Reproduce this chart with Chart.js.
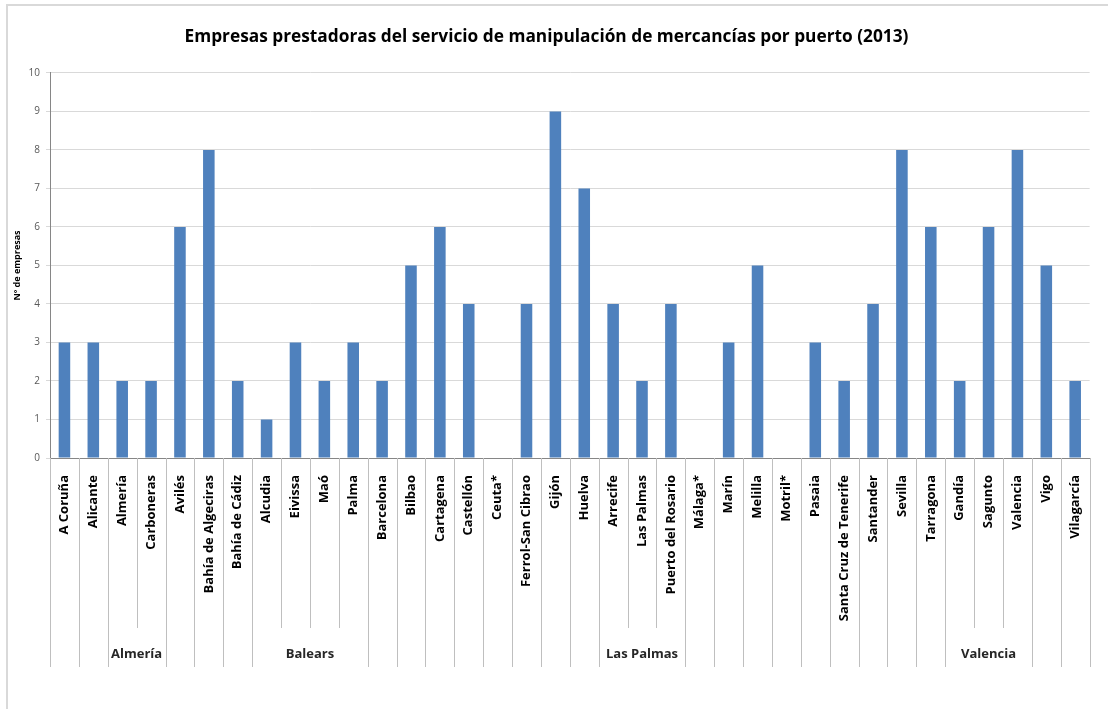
<!DOCTYPE html>
<html>
<head>
<meta charset="utf-8">
<script src="https://cdn.jsdelivr.net/npm/chart.js@4/dist/chart.umd.min.js"></script>
<style>
  html, body { margin: 0; padding: 0; background: #fff; }
  canvas { display: block; }
</style>
</head>
<body>
<canvas id="c" width="1108" height="709"></canvas>
<script>
const title = 'Empresas prestadoras del servicio de manipulación de mercancías por puerto (2013)';
const yAxisTitle = 'Nº de empresas';
const categories = ['A Coruña', 'Alicante', 'Almería', 'Carboneras', 'Avilés', 'Bahía de Algeciras', 'Bahía de Cádiz',
  'Alcudia', 'Eivissa', 'Maó', 'Palma', 'Barcelona', 'Bilbao', 'Cartagena', 'Castellón', 'Ceuta*',
  'Ferrol-San Cibrao', 'Gijón', 'Huelva', 'Arrecife', 'Las Palmas', 'Puerto del Rosario', 'Málaga*', 'Marín',
  'Melilla', 'Motril*', 'Pasaia', 'Santa Cruz de Tenerife', 'Santander', 'Sevilla', 'Tarragona', 'Gandía',
  'Sagunto', 'Valencia', 'Vigo', 'Vilagarcía'];
const groups = ['', '', 'Almería', 'Almería', '', '', '',
  'Balears', 'Balears', 'Balears', 'Balears', '', '', '', '', '',
  '', '', '', 'Las Palmas', 'Las Palmas', 'Las Palmas', '', '',
  '', '', '', '', '', '', '', 'Valencia',
  'Valencia', 'Valencia', '', ''];
const values = [3, 3, 2, 2, 6, 8, 2, 1, 3, 2, 3, 2, 5, 6, 4, 0, 4, 9, 7, 4, 2, 4, 0, 3, 5, 0, 3, 2, 4, 8, 6, 2, 6, 8, 5, 2];
const yMin = 0, yMax = 10, yStep = 1;

const FONT = '"Open Sans", Lato, sans-serif';

const framePlugin = {
  id: 'frame',
  beforeDraw(chart) {
    const ctx = chart.ctx;
    ctx.save();
    ctx.fillStyle = '#ffffff';
    ctx.fillRect(0, 0, chart.width, chart.height);
    ctx.strokeStyle = '#D9D9D9';
    ctx.lineWidth = 2;
    ctx.beginPath();
    ctx.moveTo(7, chart.height);
    ctx.lineTo(7, 5);
    ctx.lineTo(chart.width, 5);
    ctx.stroke();
    ctx.restore();
  }
};

const groupPlugin = {
  id: 'groupAxis',
  afterDraw(chart) {
    const xs = chart.scales.x;
    const ctx = chart.ctx;
    const n = categories.length;
    const w = (xs.right - xs.left) / n;
    const y0 = xs.top;
    const innerEnd = 628, outerEnd = 667, labelY = 654;
    ctx.save();
    ctx.strokeStyle = '#BFBFBF';
    ctx.lineWidth = 1;
    for (let i = 0; i <= n; i++) {
      const bx = Math.round(xs.left + i * w) + 0.5;
      const inner = i > 0 && i < n && groups[i] !== '' && groups[i] === groups[i - 1];
      ctx.beginPath();
      ctx.moveTo(bx, y0);
      ctx.lineTo(bx, inner ? innerEnd : outerEnd);
      ctx.stroke();
    }
    ctx.fillStyle = '#262626';
    ctx.font = 'bold 13px ' + FONT;
    ctx.textAlign = 'center';
    ctx.textBaseline = 'middle';
    let i = 0;
    while (i < n) {
      let j = i;
      while (j + 1 < n && groups[j + 1] === groups[i]) j++;
      if (groups[i] !== '') {
        const cx = (xs.getPixelForValue(i) + xs.getPixelForValue(j)) / 2;
        ctx.fillText(groups[i], cx, labelY);
      }
      i = j + 1;
    }
    ctx.restore();
  }
};

new Chart(document.getElementById('c'), {
  type: 'bar',
  data: {
    labels: categories,
    datasets: [{
      data: values,
      backgroundColor: '#4F81BD',
      borderWidth: 0,
      barPercentage: 0.4,
      categoryPercentage: 1.0
    }]
  },
  options: {
    responsive: false,
    animation: false,
    layout: { padding: { left: 0, right: 15, top: 0, bottom: 0 } },
    plugins: {
      legend: { display: false },
      tooltip: { enabled: false },
      title: {
        display: true,
        text: title,
        color: '#000000',
        font: { family: FONT, size: 17.3, weight: 'bold', lineHeight: 1.2 },
        padding: { top: 27, bottom: 25.2 }
      }
    },
    scales: {
      x: {
        type: 'category',
        offset: true,
        grid: { display: false, drawTicks: false },
        border: { display: true, color: '#868686', width: 1 },
        ticks: {
          autoSkip: false,
          maxRotation: 90,
          minRotation: 90,
          padding: 17,
          color: '#000000',
          font: { family: FONT, size: 13, weight: 'bold' }
        },
        afterFit(scale) { scale.height = 709 - 458; }
      },
      y: {
        min: yMin,
        max: yMax,
        grid: { color: '#D9D9D9', lineWidth: 1, drawTicks: true, tickLength: 4 },
        border: { display: true, color: '#868686', width: 1 },
        ticks: {
          stepSize: yStep,
          padding: 6,
          color: '#595959',
          font: { family: FONT, size: 10 }
        },
        title: {
          display: true,
          text: yAxisTitle,
          color: '#000000',
          font: { family: FONT, size: 9, weight: 'bold', lineHeight: 1.2 },
          padding: { top: 11.6, bottom: 0 }
        },
        afterFit(scale) { scale.width = 50; }
      }
    }
  },
  plugins: [framePlugin, groupPlugin]
});
</script>
</body>
</html>
